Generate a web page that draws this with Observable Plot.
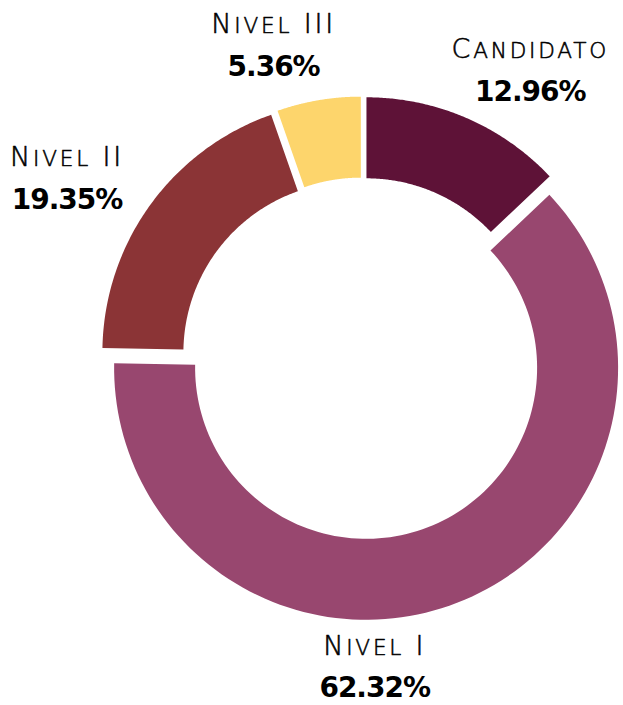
<!DOCTYPE html>
<html><head><meta charset="utf-8">
<script src="https://cdn.jsdelivr.net/npm/d3@7"></script>
<script src="https://cdn.jsdelivr.net/npm/@observablehq/plot@0.6"></script>
<style>
html,body{margin:0;padding:0;background:#fff;}
</style></head><body><div id="chart"></div>
<script>
// ---- data ----
const categories = ["Candidato", "Nivel I", "Nivel II", "Nivel III"];
const shares = [12.96, 62.32, 19.35, 5.36];
const shareLabels = ["12.96%", "62.32%", "19.35%", "5.36%"];

// ---- styles / layout ----
const colors = ["#5E1237", "#98476F", "#8B3436", "#FDD56C"];
const W = 623, H = 705;
const cxPx = 362, cyPx = 358, unit = 252;      // pie centre and outer radius in px
const innerRatio = 171 / 252;                   // donut hole
const explode = 10 / 252;                       // slice offset
const labelRadius = 1.3;
const labelNudge = {                            // px nudges (screen space)
  "Candidato": [38, -8],
  "Nivel I": [-106, -18],
  "Nivel II": [-30, -9],
  "Nivel III": [-34, -11]
};
const lineGap = 42;
const nameSize = 27, smallCapRatio = 0.8;

const data = categories.map((c, i) => ({category: c, share: shares[i], pct: shareLabels[i]}));
const arcs = d3.pie().sort(null).value(d => d.share)(data);

const ringPts = [];
const labels = [];
const N = 120;
for (const a of arcs) {
  const mid = (a.startAngle + a.endAngle) / 2;
  const ox = explode * Math.sin(mid), oy = explode * Math.cos(mid);
  for (let i = 0; i <= N; i++) {
    const t = a.startAngle + (a.endAngle - a.startAngle) * i / N;
    ringPts.push({category: a.data.category, x: ox + Math.sin(t), y: oy + Math.cos(t)});
  }
  for (let i = N; i >= 0; i--) {
    const t = a.startAngle + (a.endAngle - a.startAngle) * i / N;
    ringPts.push({category: a.data.category, x: ox + innerRatio * Math.sin(t), y: oy + innerRatio * Math.cos(t)});
  }
  const [ndx, ndy] = labelNudge[a.data.category];
  const lx = labelRadius * Math.sin(mid) + ndx / unit;
  const ly = labelRadius * Math.cos(mid) - ndy / unit;
  labels.push({category: a.data.category, pct: a.data.pct, lx, ly, py: ly - lineGap / unit});
}

const chart = Plot.plot({
  width: W, height: H, margin: 0,
  style: {background: "#fff"},
  x: {domain: [-cxPx / unit, (W - cxPx) / unit], axis: null},
  y: {domain: [-(H - cyPx) / unit, cyPx / unit], axis: null},
  color: {domain: categories, range: colors},
  marks: [
    Plot.line(ringPts, {x: "x", y: "y", z: "category", fill: "category", stroke: "none", curve: "linear-closed"}),
    Plot.text(labels, {x: "lx", y: "ly", text: "category", fill: "#000", stroke: "#000", strokeWidth: 0.55,
      fontSize: nameSize, fontWeight: 200,
      fontFamily: "DejaVu Sans", textAnchor: "middle", lineAnchor: "middle"}),
    Plot.text(labels, {x: "lx", y: "py", text: "pct", fill: "#000", fontSize: 28, fontWeight: 700,
      fontFamily: "DejaVu Sans", textAnchor: "middle", lineAnchor: "middle"})
  ]
});

const svg = d3.select(chart);
svg.selectAll('g[font-weight="700"] text').style("letter-spacing", "-1px");
// small caps: capitals full size, lowercase letters as smaller capitals
svg.selectAll('g[font-weight="200"] text').style("letter-spacing", "2.8px").each(function () {
  const el = d3.select(this);
  const txt = el.text();
  el.text(null);
  let run = "", runSmall = null;
  const flush = () => {
    if (!run) return;
    el.append("tspan")
      .attr("font-size", runSmall ? nameSize * smallCapRatio : nameSize)
      .text(runSmall ? run.toUpperCase() : run);
    run = "";
  };
  for (const ch of txt) {
    const small = ch !== ch.toUpperCase();
    if (runSmall !== null && small !== runSmall) flush();
    runSmall = small;
    run += ch;
  }
  flush();
});

document.getElementById("chart").appendChild(chart);
</script></body></html>
